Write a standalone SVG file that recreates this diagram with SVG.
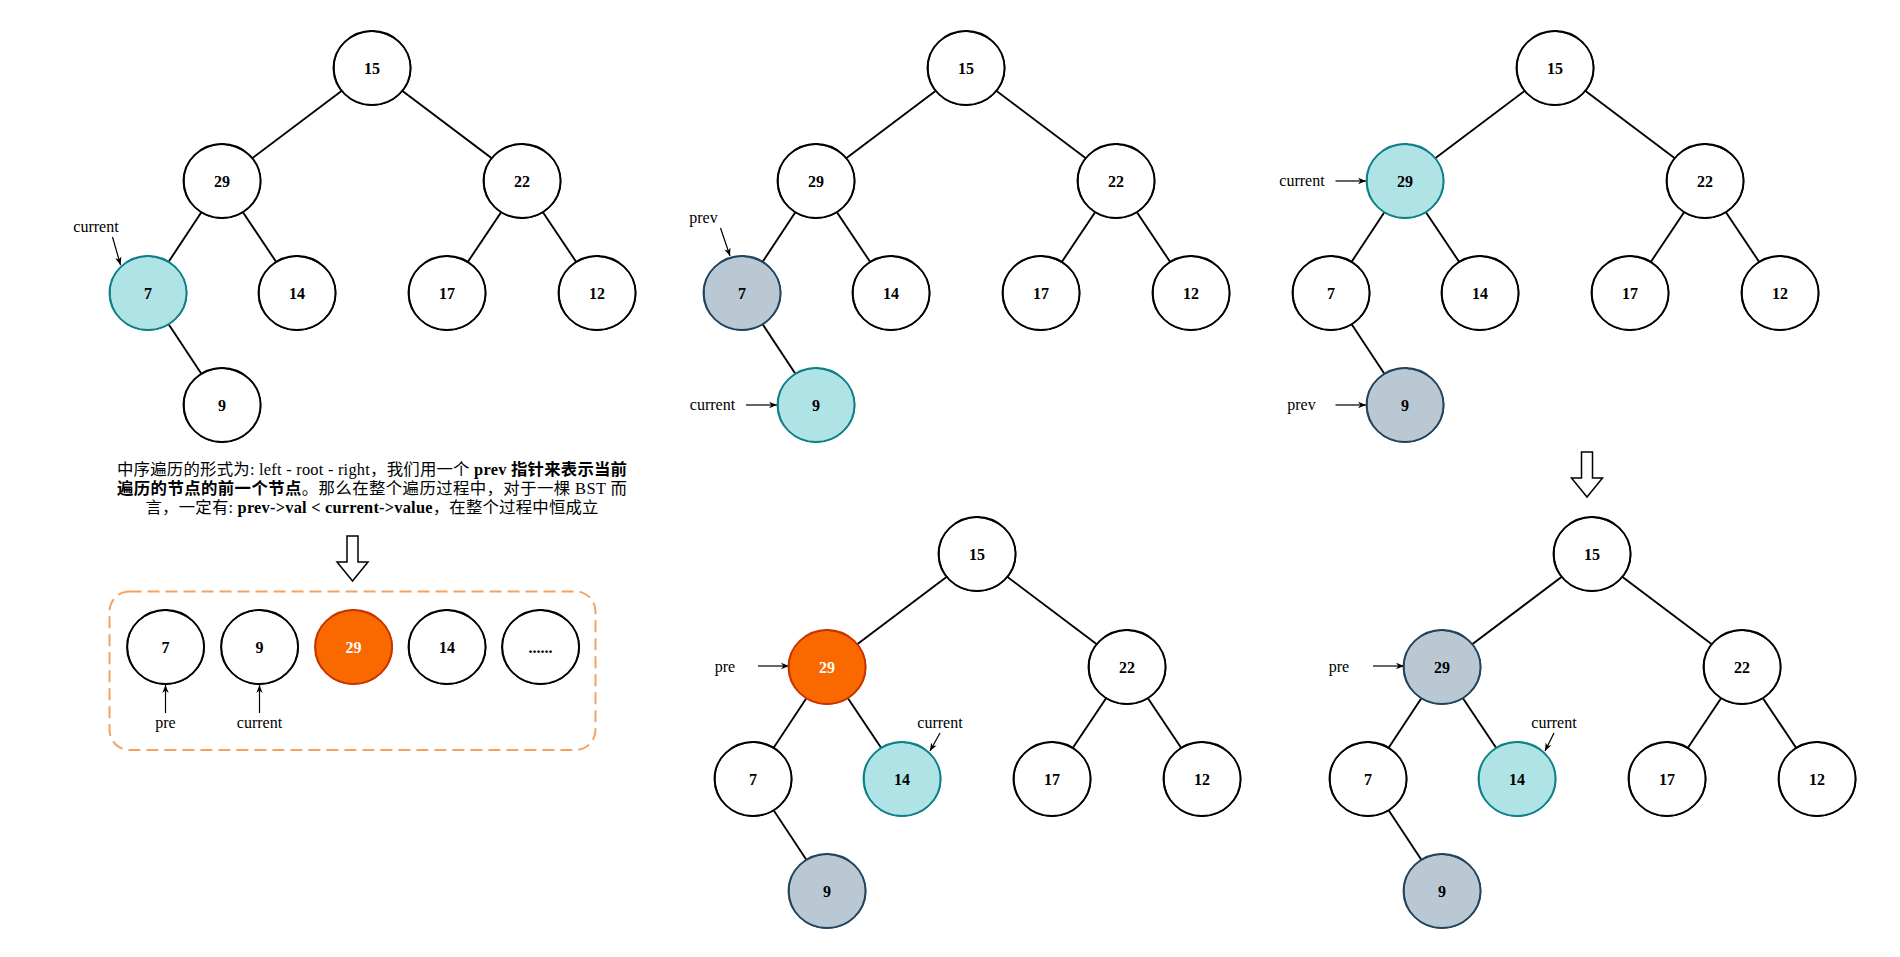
<svg xmlns="http://www.w3.org/2000/svg" xmlns:xlink="http://www.w3.org/1999/xlink" width="1900" height="957" viewBox="0 0 1900 957">
<style>
.edge{stroke:#000;stroke-width:1.9;fill:none}
.ptr{stroke:#000;stroke-width:1.2;fill:none}
.w{fill:#fff;stroke:#000}
.t{fill:#b0e3e6;stroke:#0e8088}
.g{fill:#bac8d3;stroke:#23445d}
.o{fill:#fa6800;stroke:#c73500}
.num{font-family:'Liberation Serif','Times New Roman',serif;font-weight:bold;font-size:16px;text-anchor:middle;fill:#000}
.num.wt{fill:#fff}
.lbl{font-family:'Liberation Serif','Times New Roman',serif;font-size:16px;text-anchor:middle;fill:#000}
.desc{font-family:'Liberation Serif','Noto Sans CJK SC',serif;font-size:16.4px;text-anchor:middle;fill:#000}
.b{font-weight:bold}
.blk{fill:#fff;stroke:#000;stroke-width:1.5;stroke-linejoin:miter}
</style>
<defs>
<g id="cir">
<path stroke-width="1.9" d="M 0,-37 C 21.3,-37 38.5,-20.4 38.5,0 C 38.5,20.4 21.3,37 0,37 C -21.3,37 -38.5,20.4 -38.5,0 C -38.5,-20.4 -21.3,-37 0,-37 Z"/>
<path fill="none" stroke-width="1" d="M -6,-36.6 C 16,-38.3 39.3,-23 38.9,1 C 38.5,22 20,37.6 -1,37.3 C -23,36.8 -38,19 -37.8,-1 C -37.6,-21 -22,-36 3,-37.4"/>
</g>
<marker id="arr" viewBox="0 0 10 10" refX="10" refY="5" markerWidth="8" markerHeight="8" markerUnits="userSpaceOnUse" orient="auto">
<path d="M0,1 L10,5 L0,9 L3,5 z" fill="#000"/>
</marker>
<g id="edges">
<line class="edge" x1="372" y1="68" x2="222" y2="181"/>
<line class="edge" x1="372" y1="68" x2="522" y2="181"/>
<line class="edge" x1="222" y1="181" x2="148" y2="293"/>
<line class="edge" x1="222" y1="181" x2="297" y2="293"/>
<line class="edge" x1="522" y1="181" x2="447" y2="293"/>
<line class="edge" x1="522" y1="181" x2="597" y2="293"/>
<line class="edge" x1="148" y1="293" x2="222" y2="405"/>
</g>
</defs>

<g id="connectors">
<use href="#edges" xlink:href="#edges"/>
<use href="#edges" xlink:href="#edges" transform="translate(594,0)"/>
<use href="#edges" xlink:href="#edges" transform="translate(1183,0)"/>
<use href="#edges" xlink:href="#edges" transform="translate(605,486)"/>
<use href="#edges" xlink:href="#edges" transform="translate(1220,486)"/>
<line class="ptr" x1="112.5" y1="237" x2="120.5" y2="265" marker-end="url(#arr)"/>
<line class="ptr" x1="720.5" y1="228" x2="730" y2="256" marker-end="url(#arr)"/>
<line class="ptr" x1="746" y1="405" x2="777" y2="405" marker-end="url(#arr)"/>
<line class="ptr" x1="1335.5" y1="181" x2="1366" y2="181" marker-end="url(#arr)"/>
<line class="ptr" x1="1335.5" y1="405" x2="1366" y2="405" marker-end="url(#arr)"/>
<line class="ptr" x1="758" y1="666" x2="789" y2="666" marker-end="url(#arr)"/>
<line class="ptr" x1="940" y1="733" x2="930" y2="751" marker-end="url(#arr)"/>
<line class="ptr" x1="1373" y1="666" x2="1404" y2="666" marker-end="url(#arr)"/>
<line class="ptr" x1="1554" y1="733" x2="1545" y2="751" marker-end="url(#arr)"/>
<line class="ptr" x1="165.5" y1="713" x2="165.5" y2="685" marker-end="url(#arr)"/>
<line class="ptr" x1="259.5" y1="713" x2="259.5" y2="685" marker-end="url(#arr)"/>
</g>

<!-- Tree 1 -->
<g id="tree1">
<g id="t1-15"><use href="#cir" xlink:href="#cir" x="372" y="68" class="w"/><text class="num" x="372" y="73.5">15</text></g>
<g id="t1-29"><use href="#cir" xlink:href="#cir" x="222" y="181" class="w"/><text class="num" x="222" y="186.5">29</text></g>
<g id="t1-22"><use href="#cir" xlink:href="#cir" x="522" y="181" class="w"/><text class="num" x="522" y="186.5">22</text></g>
<g id="t1-7"><use href="#cir" xlink:href="#cir" x="148" y="293" class="t"/><text class="num" x="148" y="298.5">7</text></g>
<g id="t1-14"><use href="#cir" xlink:href="#cir" x="297" y="293" class="w"/><text class="num" x="297" y="298.5">14</text></g>
<g id="t1-17"><use href="#cir" xlink:href="#cir" x="447" y="293" class="w"/><text class="num" x="447" y="298.5">17</text></g>
<g id="t1-12"><use href="#cir" xlink:href="#cir" x="597" y="293" class="w"/><text class="num" x="597" y="298.5">12</text></g>
<g id="t1-9"><use href="#cir" xlink:href="#cir" x="222" y="405" class="w"/><text class="num" x="222" y="410.5">9</text></g>
<text id="t1-current" class="lbl" x="96" y="232">current</text>
</g>

<!-- Tree 2 -->
<g id="tree2" transform="translate(594,0)">
<g id="t2-15"><use href="#cir" xlink:href="#cir" x="372" y="68" class="w"/><text class="num" x="372" y="73.5">15</text></g>
<g id="t2-29"><use href="#cir" xlink:href="#cir" x="222" y="181" class="w"/><text class="num" x="222" y="186.5">29</text></g>
<g id="t2-22"><use href="#cir" xlink:href="#cir" x="522" y="181" class="w"/><text class="num" x="522" y="186.5">22</text></g>
<g id="t2-7"><use href="#cir" xlink:href="#cir" x="148" y="293" class="g"/><text class="num" x="148" y="298.5">7</text></g>
<g id="t2-14"><use href="#cir" xlink:href="#cir" x="297" y="293" class="w"/><text class="num" x="297" y="298.5">14</text></g>
<g id="t2-17"><use href="#cir" xlink:href="#cir" x="447" y="293" class="w"/><text class="num" x="447" y="298.5">17</text></g>
<g id="t2-12"><use href="#cir" xlink:href="#cir" x="597" y="293" class="w"/><text class="num" x="597" y="298.5">12</text></g>
<g id="t2-9"><use href="#cir" xlink:href="#cir" x="222" y="405" class="t"/><text class="num" x="222" y="410.5">9</text></g>
<text id="t2-prev" class="lbl" x="109.5" y="223">prev</text>
<text id="t2-current" class="lbl" x="118.5" y="410">current</text>
</g>

<!-- Tree 3 -->
<g id="tree3" transform="translate(1183,0)">
<g id="t3-15"><use href="#cir" xlink:href="#cir" x="372" y="68" class="w"/><text class="num" x="372" y="73.5">15</text></g>
<g id="t3-29"><use href="#cir" xlink:href="#cir" x="222" y="181" class="t"/><text class="num" x="222" y="186.5">29</text></g>
<g id="t3-22"><use href="#cir" xlink:href="#cir" x="522" y="181" class="w"/><text class="num" x="522" y="186.5">22</text></g>
<g id="t3-7"><use href="#cir" xlink:href="#cir" x="148" y="293" class="w"/><text class="num" x="148" y="298.5">7</text></g>
<g id="t3-14"><use href="#cir" xlink:href="#cir" x="297" y="293" class="w"/><text class="num" x="297" y="298.5">14</text></g>
<g id="t3-17"><use href="#cir" xlink:href="#cir" x="447" y="293" class="w"/><text class="num" x="447" y="298.5">17</text></g>
<g id="t3-12"><use href="#cir" xlink:href="#cir" x="597" y="293" class="w"/><text class="num" x="597" y="298.5">12</text></g>
<g id="t3-9"><use href="#cir" xlink:href="#cir" x="222" y="405" class="g"/><text class="num" x="222" y="410.5">9</text></g>
<text id="t3-current" class="lbl" x="119" y="186">current</text>
<text id="t3-prev" class="lbl" x="118.5" y="409.5">prev</text>
</g>

<!-- Tree 4 -->
<g id="tree4" transform="translate(605,486)">
<g id="t4-15"><use href="#cir" xlink:href="#cir" x="372" y="68" class="w"/><text class="num" x="372" y="73.5">15</text></g>
<g id="t4-29"><use href="#cir" xlink:href="#cir" x="222" y="181" class="o"/><text class="num wt" x="222" y="186.5">29</text></g>
<g id="t4-22"><use href="#cir" xlink:href="#cir" x="522" y="181" class="w"/><text class="num" x="522" y="186.5">22</text></g>
<g id="t4-7"><use href="#cir" xlink:href="#cir" x="148" y="293" class="w"/><text class="num" x="148" y="298.5">7</text></g>
<g id="t4-14"><use href="#cir" xlink:href="#cir" x="297" y="293" class="t"/><text class="num" x="297" y="298.5">14</text></g>
<g id="t4-17"><use href="#cir" xlink:href="#cir" x="447" y="293" class="w"/><text class="num" x="447" y="298.5">17</text></g>
<g id="t4-12"><use href="#cir" xlink:href="#cir" x="597" y="293" class="w"/><text class="num" x="597" y="298.5">12</text></g>
<g id="t4-9"><use href="#cir" xlink:href="#cir" x="222" y="405" class="g"/><text class="num" x="222" y="410.5">9</text></g>
<text id="t4-pre" class="lbl" x="120" y="186">pre</text>
<text id="t4-current" class="lbl" x="335" y="242">current</text>
</g>

<!-- Tree 5 -->
<g id="tree5" transform="translate(1220,486)">
<g id="t5-15"><use href="#cir" xlink:href="#cir" x="372" y="68" class="w"/><text class="num" x="372" y="73.5">15</text></g>
<g id="t5-29"><use href="#cir" xlink:href="#cir" x="222" y="181" class="g"/><text class="num" x="222" y="186.5">29</text></g>
<g id="t5-22"><use href="#cir" xlink:href="#cir" x="522" y="181" class="w"/><text class="num" x="522" y="186.5">22</text></g>
<g id="t5-7"><use href="#cir" xlink:href="#cir" x="148" y="293" class="w"/><text class="num" x="148" y="298.5">7</text></g>
<g id="t5-14"><use href="#cir" xlink:href="#cir" x="297" y="293" class="t"/><text class="num" x="297" y="298.5">14</text></g>
<g id="t5-17"><use href="#cir" xlink:href="#cir" x="447" y="293" class="w"/><text class="num" x="447" y="298.5">17</text></g>
<g id="t5-12"><use href="#cir" xlink:href="#cir" x="597" y="293" class="w"/><text class="num" x="597" y="298.5">12</text></g>
<g id="t5-9"><use href="#cir" xlink:href="#cir" x="222" y="405" class="g"/><text class="num" x="222" y="410.5">9</text></g>
<text id="t5-pre" class="lbl" x="119" y="186">pre</text>
<text id="t5-current" class="lbl" x="334" y="242">current</text>
</g>

<!-- Description -->
<g id="description">
<text class="desc" x="372" y="474.5" textLength="510" lengthAdjust="spacing">中序遍历的形式为: left - root - right，我们用一个 <tspan class="b">prev 指针来表示当前</tspan></text>
<text class="desc" x="372" y="493.5" textLength="510" lengthAdjust="spacing"><tspan class="b">遍历的节点的前一个节点</tspan>。那么在整个遍历过程中，对于一棵 BST 而</text>
<text class="desc" x="372" y="513" textLength="453" lengthAdjust="spacing">言，一定有: <tspan class="b">prev-&gt;val &lt; current-&gt;value</tspan>，在整个过程中恒成立</text>
</g>

<!-- Block arrows -->
<g id="arrow-down-left"><path class="blk" d="M347,536 L358,536 L358,562 L368,562 L352.5,581 L337,562 L347,562 Z"/></g>
<g id="arrow-down-right"><path class="blk" d="M1581.5,452 L1592.5,452 L1592.5,478 L1602.5,478 L1587,497 L1571.5,478 L1581.5,478 Z"/></g>

<!-- Array -->
<g id="array">
<rect id="array-box" x="109.5" y="591.5" width="486" height="158.5" rx="20" ry="20" fill="none" stroke="#f5a15f" stroke-width="2" stroke-dasharray="12 6"/>
<g id="a-7"><use href="#cir" xlink:href="#cir" x="165.5" y="647" class="w"/><text class="num" x="165.5" y="652.5">7</text></g>
<g id="a-9"><use href="#cir" xlink:href="#cir" x="259.5" y="647" class="w"/><text class="num" x="259.5" y="652.5">9</text></g>
<g id="a-29"><use href="#cir" xlink:href="#cir" x="353.5" y="647" class="o"/><text class="num wt" x="353.5" y="652.5">29</text></g>
<g id="a-14"><use href="#cir" xlink:href="#cir" x="447" y="647" class="w"/><text class="num" x="447" y="652.5">14</text></g>
<g id="a-more"><use href="#cir" xlink:href="#cir" x="540.5" y="647" class="w"/><text class="num" x="540.5" y="652.5">......</text></g>
<text id="a-pre" class="lbl" x="165.5" y="728">pre</text>
<text id="a-current" class="lbl" x="259.5" y="728">current</text>
</g>
</svg>
